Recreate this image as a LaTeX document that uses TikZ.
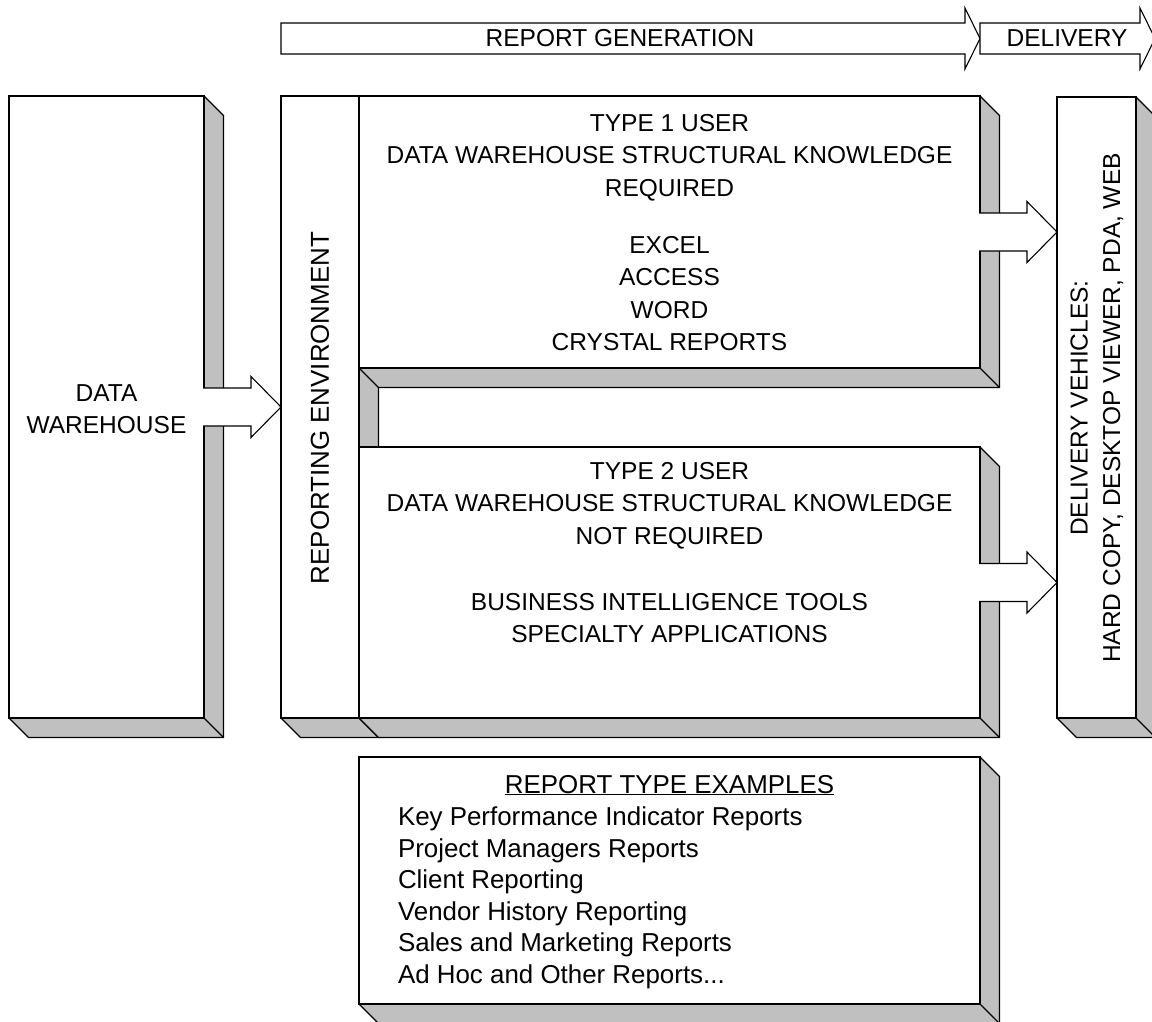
\documentclass[tikz,border=0pt]{standalone}
\usepackage{fontspec}
\setmainfont{Liberation Sans}
\usetikzlibrary{calc}
\definecolor{shadegray}{HTML}{C0C0C0}
\tikzset{
  bface/.style={fill=shadegray, draw=black, line width=1.1pt, line join=miter},
  bedge/.style={draw=black, line width=1.1pt},
  bfront/.style={fill=white, draw=black, line width=1.1pt, inner sep=0pt, outer sep=0pt},
  arrowfill/.style={fill=white},
  arrowline/.style={draw=black, line width=1.1pt, line join=miter},
  lbl/.style={inner sep=0pt, outer sep=0pt, font=\fontsize{24.5}{32.5}\selectfont},
  biglbl/.style={inner sep=0pt, outer sep=0pt, font=\fontsize{25.9}{32.5}\selectfont},
  exlbl/.style={inner sep=0pt, outer sep=0pt, font=\fontsize{25.9}{31.5}\selectfont},
}
% 3D box: name, x1, y1, x2, y2 (front face), depth 19.5
\newcommand\tdbox[5]{%
  \filldraw[bface] (#4,#3) -- ++(19.5,19.5) -- (#4+19.5,#5+19.5) -- (#2+19.5,#5+19.5) -- (#2,#5) -- cycle;
  \draw[bedge] (#4,#5) -- ++(19.5,19.5);
  \node[bfront, anchor=north west, minimum width=#4pt-#2pt, minimum height=#5pt-#3pt] (#1) at (#2,#3) {};
}
% block arrow from start point #1 to tip #2 (horizontal)
\newcommand\blockarr[2]{%
  \fill[arrowfill] let \p1=(#1), \p2=(#2) in
    (\x1-1pt,\y2+19pt) -- (\x2-30pt,\y2+19pt) -- (\x2-30pt,\y2+30.5pt) -- (\x2,\y2)
    -- (\x2-30pt,\y2-30.5pt) -- (\x2-30pt,\y2-19pt) -- (\x1-1pt,\y2-19pt) -- cycle;
  \draw[arrowline] let \p1=(#1), \p2=(#2) in
    (\x1-1pt,\y2+19pt) -- (\x2-30pt,\y2+19pt) -- (\x2-30pt,\y2+30.5pt) -- (\x2,\y2)
    -- (\x2-30pt,\y2-30.5pt) -- (\x2-30pt,\y2-19pt) -- (\x1-1pt,\y2-19pt);
}
\begin{document}
\begin{tikzpicture}[x=1pt,y=-1pt]
\useasboundingbox (0,0) rectangle (1152,1021);
\fill[white] (0,0) rectangle (1152,1021);

% top process arrows
\filldraw[arrowline, fill=white] (281,23) -- (965,23) -- (965,8) -- (980,38.5) -- (965,69) -- (965,54) -- (281,54) -- cycle;
\node[lbl] (gen) at (620,38.5) {REPORT GENERATION};
\filldraw[arrowline, fill=white] (980,23) -- (1140,23) -- (1140,8) -- (1155,38.5) -- (1140,69) -- (1140,54) -- (980,54) -- cycle;
\node[lbl] (dlv) at (1067,38.5) {DELIVERY};

% boxes
\tdbox{dw}{9}{96}{204}{718}
\tdbox{re}{281}{96}{359}{718}
\tdbox{tone}{359}{96}{980}{368}
\tdbox{ttwo}{359}{447}{980}{718}
\tdbox{del}{1057}{97}{1136}{718}
\tdbox{ex}{359}{757}{980}{1004}

% labels
\node[lbl, anchor=base] (dwa) at (106.5,401) {DATA};
\node[lbl, anchor=base] (dwb) at (106.5,433.5) {WAREHOUSE};
\node[biglbl, rotate=90] (relbl) at (320,408) {REPORTING ENVIRONMENT};
\node[lbl, rotate=90, align=center] (dellbl) at (1097,408) {DELIVERY VEHICLES:\\HARD COPY, DESKTOP VIEWER, PDA, WEB};

\foreach \t/\b [count=\i] in {TYPE 1 USER/131, DATA WAREHOUSE STRUCTURAL KNOWLEDGE/163.5, REQUIRED/196, EXCEL/253, ACCESS/285.5, WORD/318, CRYSTAL REPORTS/350.5}
  \node[lbl, anchor=base] (tonel\i) at (669.5,\b) {\t};
\foreach \t/\b [count=\i] in {TYPE 2 USER/479, DATA WAREHOUSE STRUCTURAL KNOWLEDGE/511.5, NOT REQUIRED/544, BUSINESS INTELLIGENCE TOOLS/610, SPECIALTY APPLICATIONS/642.5}
  \node[lbl, anchor=base] (ttwol\i) at (669.5,\b) {\t};

\node[exlbl, anchor=base] (extitle) at (669.5,793) {\underline{REPORT TYPE EXAMPLES}};
\foreach \t/\b [count=\i] in {Key Performance Indicator Reports/825.5, Project Managers Reports/857, Client Reporting/888.5, Vendor History Reporting/920, Sales and Marketing Reports/951.5}
  \node[exlbl, anchor=base west] (exl\i) at (398,\b) {\t};
\node[exlbl, anchor=base west] (exl6) at (398,983) {Ad Hoc and Other Reports...};

% connectors
\blockarr{dw.east}{re.west |- dw.east}
\blockarr{tone.east}{del.west |- tone.east}
\blockarr{ttwo.east}{del.west |- ttwo.east}
\end{tikzpicture}
\end{document}
